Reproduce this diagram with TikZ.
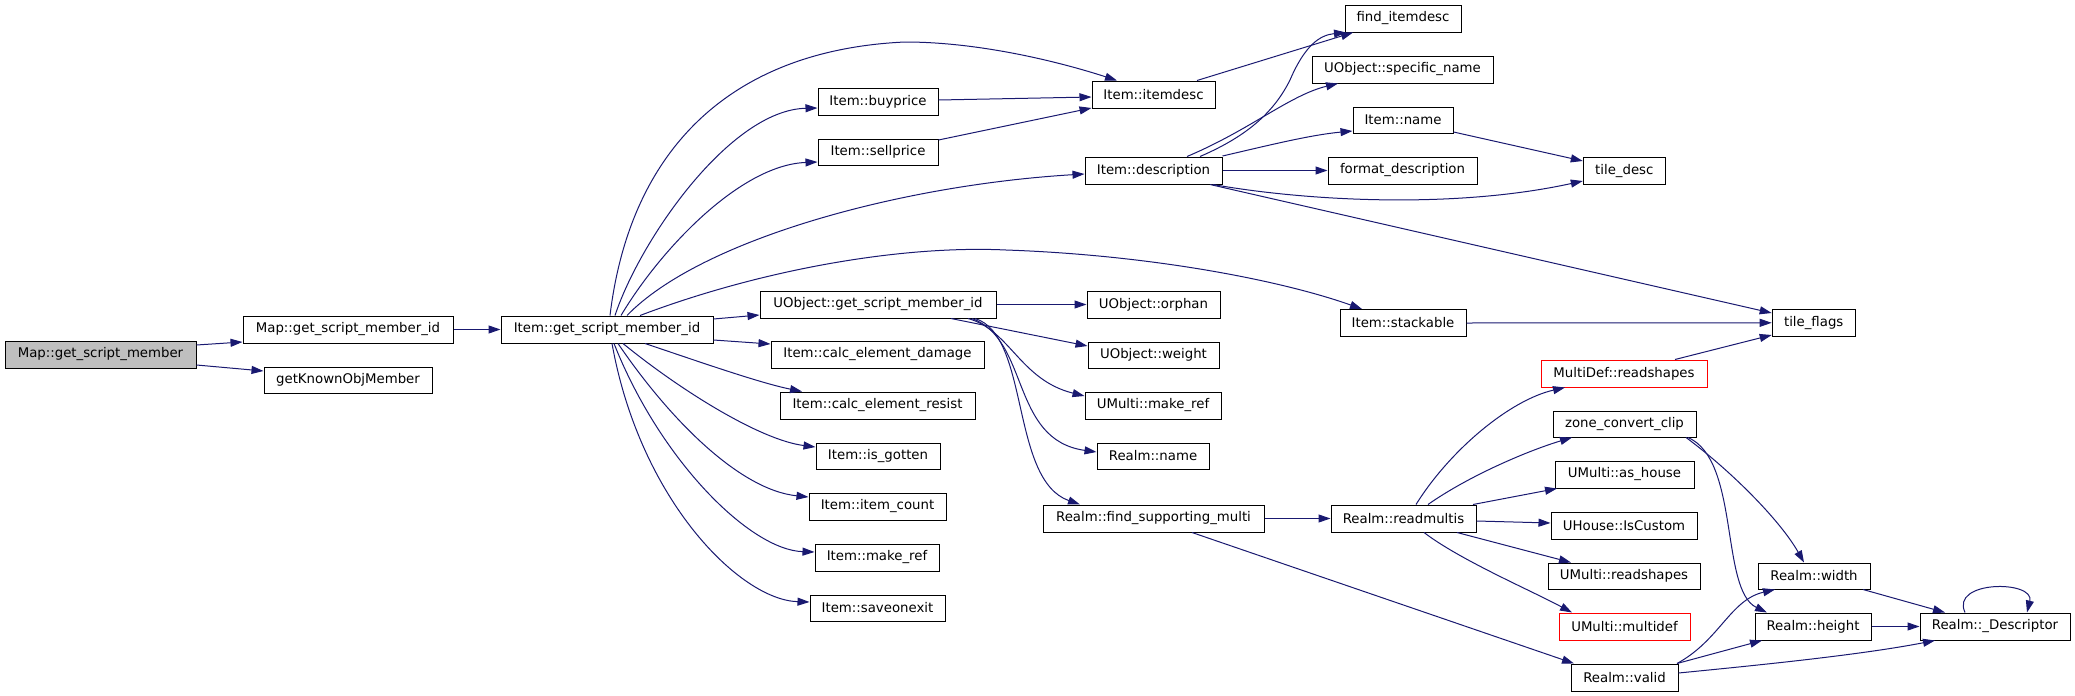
\documentclass[tikz,border=0pt]{standalone}
\usepackage{fontspec}
\setmainfont{DejaVu Sans}
\usetikzlibrary{arrows.meta}
\definecolor{navy}{HTML}{191970}
\definecolor{rootgray}{HTML}{BFBFBF}
\tikzset{
  box/.style={draw=black, line width=1pt, rectangle, inner sep=0pt, fill=white,
    font=\fontsize{13.3}{16}\selectfont},
  redbox/.style={box, draw=red},
  rootbox/.style={box, fill=rootgray},
  edge/.style={draw=navy, line width=1pt, -{Triangle[length=12pt,width=8pt]}}
}
\begin{document}
\begin{tikzpicture}[x=1pt,y=-1pt]
\useasboundingbox (0,0) rectangle (2075,696);
% nodes
\node[rootbox, minimum width=191pt, minimum height=27pt] (mgsm) at (100.5,354.5) {Map::get\_script\_member};
\node[box, minimum width=210pt, minimum height=27pt] (mgsmid) at (348,329.5) {Map::get\_script\_member\_id};
\node[box, minimum width=168pt, minimum height=26pt] (gkom) at (348,380) {getKnownObjMember};
\node[box, minimum width=212pt, minimum height=27pt] (igsmid) at (607,329.5) {Item::get\_script\_member\_id};
\node[box, minimum width=120pt, minimum height=27pt] (buy) at (878,101.5) {Item::buyprice};
\node[box, minimum width=120pt, minimum height=26pt] (sell) at (878,152) {Item::sellprice};
\node[box, minimum width=236pt, minimum height=27pt] (ugsmid) at (878,304.5) {UObject::get\_script\_member\_id};
\node[box, minimum width=213pt, minimum height=27pt] (damage) at (877.5,354.5) {Item::calc\_element\_damage};
\node[box, minimum width=195pt, minimum height=27pt] (resist) at (877.5,405.5) {Item::calc\_element\_resist};
\node[box, minimum width=124pt, minimum height=26pt] (gotten) at (878,456) {Item::is\_gotten};
\node[box, minimum width=137pt, minimum height=27pt] (count) at (877.5,506.5) {Item::item\_count};
\node[box, minimum width=124pt, minimum height=27pt] (imref) at (877,557.5) {Item::make\_ref};
\node[box, minimum width=135pt, minimum height=26pt] (save) at (877.5,608) {Item::saveonexit};
\node[box, minimum width=123pt, minimum height=27pt] (itemdesc) at (1153.5,94.5) {Item::itemdesc};
\node[box, minimum width=137pt, minimum height=27pt] (desc) at (1153.5,170.5) {Item::description};
\node[box, minimum width=133pt, minimum height=27pt] (orphan) at (1153.5,304.5) {UObject::orphan};
\node[box, minimum width=131pt, minimum height=26pt] (weight) at (1153.5,355) {UObject::weight};
\node[box, minimum width=136pt, minimum height=27pt] (umref) at (1153,405.5) {UMulti::make\_ref};
\node[box, minimum width=112pt, minimum height=26pt] (rname) at (1153,456) {Realm::name};
\node[box, minimum width=221pt, minimum height=27pt] (fsm) at (1153.5,518.5) {Realm::find\_supporting\_multi};
\node[box, minimum width=116pt, minimum height=27pt] (find) at (1403,18.5) {find\_itemdesc};
\node[box, minimum width=181pt, minimum height=27pt] (spec) at (1402.5,69.5) {UObject::specific\_name};
\node[box, minimum width=100pt, minimum height=26pt] (iname) at (1403,120) {Item::name};
\node[box, minimum width=149pt, minimum height=27pt] (fmt) at (1402.5,170.5) {format\_description};
\node[box, minimum width=126pt, minimum height=27pt] (stack) at (1403,323) {Item::stackable};
\node[box, minimum width=145pt, minimum height=27pt] (readmultis) at (1403.5,518.5) {Realm::readmultis};
\node[box, minimum width=82pt, minimum height=27pt] (tdesc) at (1624.3,170.8) {tile\_desc};
\node[box, minimum width=83pt, minimum height=27pt] (tflags) at (1813.7,322.8) {tile\_flags};
\node[redbox, minimum width=166pt, minimum height=27pt] (mdrs) at (1624,373.5) {MultiDef::readshapes};
\node[box, minimum width=143pt, minimum height=26pt] (zcc) at (1624.5,424) {zone\_convert\_clip};
\node[box, minimum width=139pt, minimum height=27pt] (ash) at (1624.5,474.5) {UMulti::as\_house};
\node[box, minimum width=146pt, minimum height=27pt] (custom) at (1624,525.5) {UHouse::IsCustom};
\node[box, minimum width=152pt, minimum height=26pt] (urs) at (1624,576) {UMulti::readshapes};
\node[redbox, minimum width=131pt, minimum height=27pt] (mdef) at (1624.5,626.5) {UMulti::multidef};
\node[box, minimum width=107pt, minimum height=27pt] (valid) at (1624.5,677.5) {Realm::valid};
\node[box, minimum width=112pt, minimum height=26pt] (width) at (1814,576) {Realm::width};
\node[box, minimum width=116pt, minimum height=27pt] (height) at (1813,626.5) {Realm::height};
\node[box, minimum width=150pt, minimum height=27pt] (descr) at (1995,626.5) {Realm::\_Descriptor};
% edges
\draw[edge] (mgsm.east |- 0,345) -- (mgsmid.west |- 0,342);
\draw[edge] (mgsm.east |- 0,365) -- (gkom.west |- 0,371);
\draw[edge] (mgsmid.east) -- (igsmid.west);
\draw[edge] (igsmid.north -| 610,0) .. controls (630,150) and (730,50) .. (905,42) .. controls (980,42) and (1060,62) .. (itemdesc.north -| 1117,0);
\draw[edge] (igsmid.north -| 615,0) .. controls (640,240) and (730,110) .. (buy.west |- 0,108);
\draw[edge] (igsmid.north -| 621,0) .. controls (660,250) and (740,165) .. (sell.west |- 0,162);
\draw[edge] (igsmid.north -| 627,0) .. controls (700,240) and (900,185) .. (desc.west |- 0,174);
\draw[edge] (igsmid.north -| 640,0) .. controls (760,270) and (900,245) .. (1006,250) .. controls (1150,255) and (1280,280) .. (stack.north -| 1362,0);
\draw[edge] (igsmid.east |- 0,319) -- (ugsmid.west |- 0,315);
\draw[edge] (igsmid.east |- 0,340) -- (damage.west |- 0,344);
\draw[edge] (igsmid.south -| 645,0) .. controls (700,362) and (760,383) .. (resist.north -| 802,0);
\draw[edge] (igsmid.south -| 623,0) .. controls (680,390) and (760,440) .. (gotten.west |- 0,447);
\draw[edge] (igsmid.south -| 618,0) .. controls (670,420) and (740,490) .. (count.west |- 0,497);
\draw[edge] (igsmid.south -| 614,0) .. controls (660,460) and (750,550) .. (imref.west |- 0,552);
\draw[edge] (igsmid.south -| 612,0) .. controls (640,500) and (740,600) .. (save.west |- 0,602);
\draw[edge] (buy.east |- 0,100) -- (itemdesc.west |- 0,97);
\draw[edge] (sell.east |- 0,140) -- (itemdesc.west |- 0,108);
\draw[edge] (itemdesc.north -| 1197,0) -- (find.south -| 1353,0);
\draw[edge] (desc.north -| 1200,0) .. controls (1250,135) and (1275,110) .. (1290,80) .. controls (1305,45) and (1320,35) .. (find.south -| 1346,0);
\draw[edge] (desc.north -| 1187,0) .. controls (1250,130) and (1290,95) .. (spec.south -| 1338,0);
\draw[edge] (desc.east |- 0,156) .. controls (1270,145) and (1310,135) .. (iname.west |- 0,131);
\draw[edge] (desc.east) -- (fmt.west);
\draw[edge] (desc.south -| 1213,0) .. controls (1300,200) and (1450,210) .. (tdesc.west |- 0,181);
\draw[edge] (desc.south -| 1210,0) -- (tflags.west |- 0,313);
\draw[edge] (iname.east |- 0,132) -- (tdesc.west |- 0,161);
\draw[edge] (stack.east) -- (tflags.west);
\draw[edge] (mdrs.north -| 1675,0) -- (tflags.west |- 0,335);
\draw[edge] (ugsmid.east) -- (orphan.west);
\draw[edge] (ugsmid.south -| 951,0) -- (weight.west |- 0,346);
\draw[edge] (ugsmid.south -| 968,0) .. controls (1010,330) and (1020,380) .. (umref.west |- 0,396);
\draw[edge] (ugsmid.south -| 972,0) .. controls (1030,340) and (1010,440) .. (rname.west |- 0,452);
\draw[edge] (ugsmid.south -| 975,0) .. controls (1030,335) and (1010,480) .. (fsm.north -| 1080,0);
\draw[edge] (fsm.east) -- (readmultis.west);
\draw[edge] (fsm.south -| 1192,0) -- (valid.north -| 1574,0);
\draw[edge] (readmultis.north -| 1416,0) .. controls (1450,450) and (1510,400) .. (mdrs.south -| 1565,0);
\draw[edge] (readmultis.north -| 1428,0) .. controls (1470,475) and (1530,450) .. (zcc.south -| 1572,0);
\draw[edge] (readmultis.north -| 1473,0) -- (ash.south -| 1557,0);
\draw[edge] (readmultis.east |- 0,521) -- (custom.west |- 0,523);
\draw[edge] (readmultis.south -| 1457,0) -- (urs.north -| 1571,0);
\draw[edge] (readmultis.south -| 1424,0) .. controls (1460,560) and (1530,590) .. (mdef.north -| 1572,0);
\draw[edge] (zcc.south -| 1686,0) .. controls (1730,470) and (1780,520) .. (width.north -| 1804,0);
\draw[edge] (zcc.south -| 1688,0) .. controls (1740,460) and (1720,590) .. (height.north -| 1767,0);
\draw[edge] (valid.north -| 1677,0) .. controls (1720,640) and (1730,600) .. (width.south -| 1775,0);
\draw[edge] (valid.north -| 1677,0) -- (height.south -| 1762,0);
\draw[edge] (valid.east |- 0,673) .. controls (1760,665) and (1860,655) .. (descr.south -| 1935,0);
\draw[edge] (width.south -| 1863,0) -- (descr.north -| 1945,0);
\draw[edge] (height.east) -- (descr.west);
\draw[edge] (descr.north -| 1965,0) .. controls (1950,580) and (2035,580) .. (descr.north -| 2027,0);
\end{tikzpicture}
\end{document}
